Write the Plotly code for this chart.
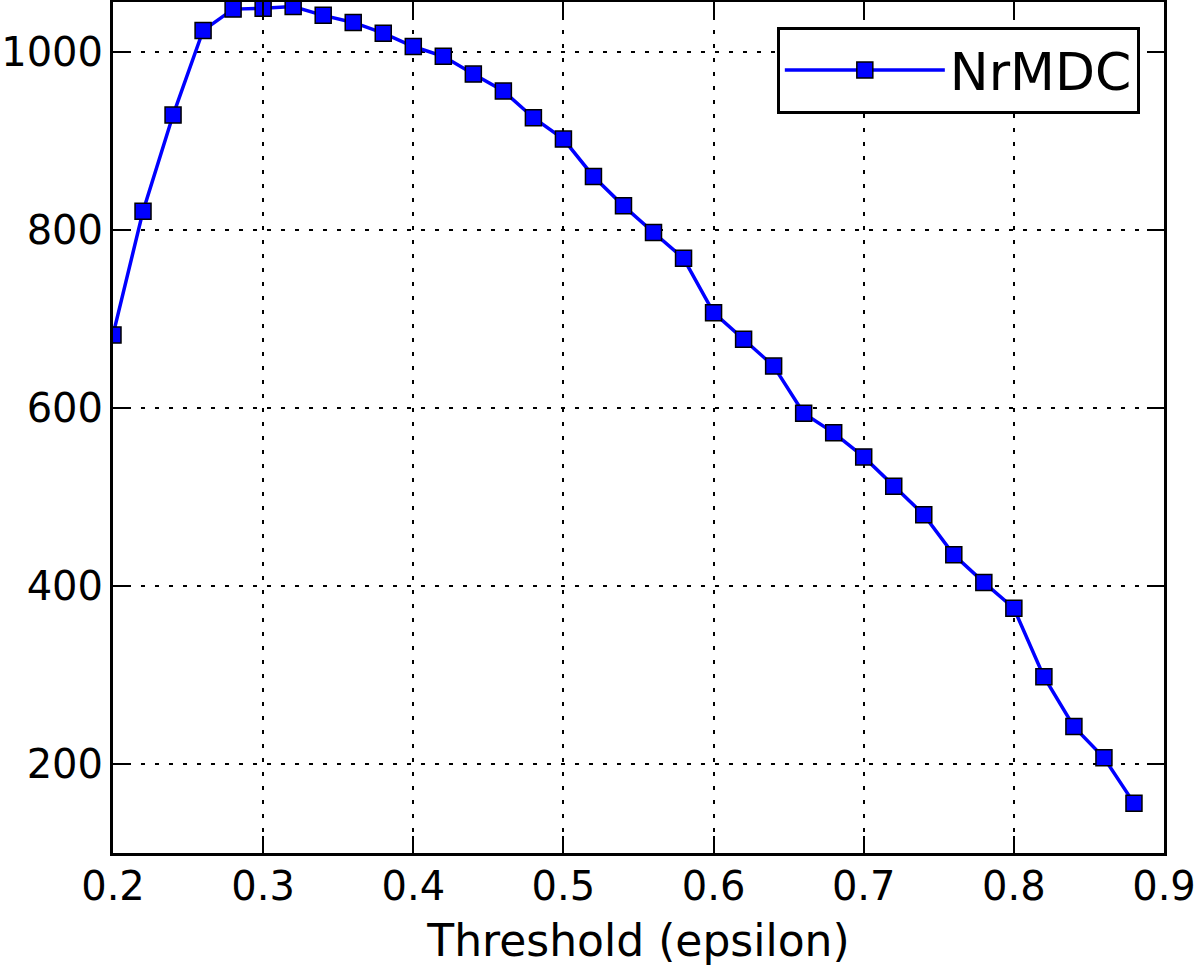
import plotly.graph_objects as go

threshold = [0.20, 0.22, 0.24, 0.26, 0.28, 0.30, 0.32, 0.34, 0.36, 0.38,
             0.40, 0.42, 0.44, 0.46, 0.48, 0.50, 0.52, 0.54, 0.56, 0.58,
             0.60, 0.62, 0.64, 0.66, 0.68, 0.70, 0.72, 0.74, 0.76, 0.78,
             0.80, 0.82, 0.84, 0.86, 0.88]
nrmdc = [682, 821, 929, 1024, 1048, 1049, 1051, 1041, 1033, 1021,
         1006, 995, 975, 956, 926, 902, 860, 827, 797, 768,
         707, 677, 647, 594, 572, 545, 512, 480, 435, 404,
         375, 298, 242, 207, 156]

font_family = "DejaVu Sans"

fig = go.Figure()
fig.add_trace(go.Scatter(
    x=threshold, y=nrmdc, name="NrMDC", mode="lines+markers",
    line=dict(color="#0000ff", width=3.5),
    marker=dict(symbol="square", size=16, color="#0000ff",
                line=dict(color="black", width=1.5)),
))

axis_common = dict(
    showline=True, linecolor="black", linewidth=3, mirror="ticks",
    ticks="inside", ticklen=17, tickwidth=2, tickcolor="black",
    showgrid=True, gridcolor="black", gridwidth=2, griddash="4px,10px",
    zeroline=False, automargin=False,
    tickfont=dict(family=font_family, size=40, color="black"),
)

fig.update_xaxes(
    range=[0.2, 0.9], dtick=0.1, tick0=0.2, tickformat=".1f",
    ticklabelstandoff=-4,
    title=dict(text="Threshold (epsilon)", standoff=18,
               font=dict(family=font_family, size=44, color="black")),
    **axis_common,
)
fig.update_yaxes(
    range=[100, 1056], dtick=200, tick0=0, ticklabelstandoff=-1,
    **axis_common,
)

fig.update_layout(
    width=1200, height=970,
    margin=dict(l=113, r=36, t=2, b=117),
    paper_bgcolor="white", plot_bgcolor="white",
    font=dict(family=font_family, color="black"),
    showlegend=True,
    legend=dict(
        x=0.977, y=0.971, xanchor="right", yanchor="top",
        bgcolor="white", bordercolor="black", borderwidth=3,
        font=dict(family=font_family, size=52, color="black"),
        itemwidth=160,
    ),
)

# drop the browser's default body margin so the figure sits at the page corner
fig.write_html("out.html", config={"displayModeBar": False},
               post_script="document.body.style.margin='0';")
